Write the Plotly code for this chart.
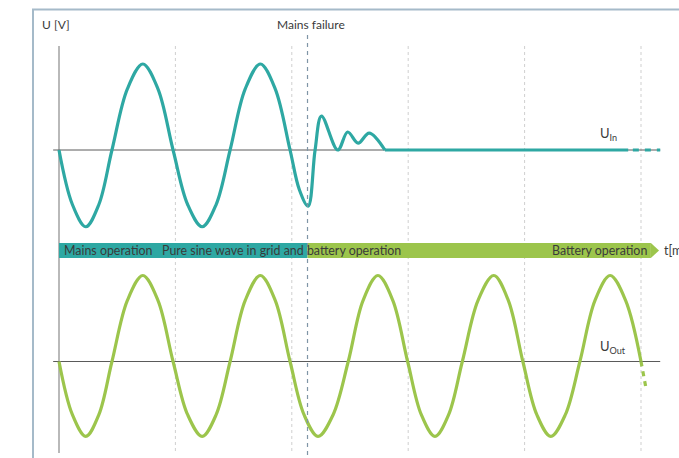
import plotly.graph_objects as go

# ---- data (time in ms, voltage in V) ----
t_out = [0, 2.3, 4.6, 6.85, 9.1, 11.75, 14.4, 17.0, 19.6, 22.1, 24.6, 27.0, 29.4,
         32.0, 34.6, 37.15, 39.7, 42.1, 44.5, 47.1, 49.7, 52.25, 54.8, 57.35, 59.9,
         62.25, 64.6, 66.95, 69.3, 72.0, 74.7, 77.2, 79.7, 82.1, 84.5, 87.0, 89.5,
         92.1, 94.7, 97.35, 100.0]
u_out = [0, -201, -283, -201, 0, 231, 325, 231, 0, -201, -283, -201, 0,
         231, 325, 231, 0, -201, -283, -201, 0, 231, 325, 231, 0,
         -201, -283, -201, 0, 231, 325, 231, 0, -201, -283, -201, 0,
         231, 325, 231, 0]
t_out_cont = [100.0, 100.9]
u_out_cont = [0, -106]

t_in = [0, 2.3, 4.6, 6.85, 9.1, 11.75, 14.4, 17.0, 19.6, 22.1, 24.6, 27.0, 29.4,
        32.0, 34.6, 37.15, 39.7, 41.3, 42.8, 44.0, 45.1, 47.9, 49.6, 51.4, 53.3, 56.0]
u_in = [0, -206, -290, -206, 0, 231, 325, 231, 0, -206, -290, -206, 0,
        231, 325, 231, 0, -150, -212, 0, 128, 0, 68, 26, 64, 0]
t_in_flat = [56.0, 97.8]
u_in_flat = [0, 0]
t_in_cont = [98.6, 103.3]
u_in_cont = [0, 0]

t_fail = 42.7
grid_t = [20, 40, 60, 80, 100]
phase_labels = ["Mains operation", "Pure sine wave in grid and battery operation",
                "Battery operation"]
phase_ends = [0, t_fail, 101.7, 103.1]

TEAL = "#2ea8a3"
GREEN = "#9cc54c"
TXT = "#3a3a3a"
FONT = "Lato"

W, H = 679, 458
def py(p):
    return 1 - p / H
def px(p):
    return p / W

fig = go.Figure()
fig.add_trace(go.Scatter(x=t_in, y=u_in, mode="lines", yaxis="y",
                         line=dict(color=TEAL, width=3.2, shape="spline", smoothing=1.0)))
fig.add_trace(go.Scatter(x=t_in_flat, y=u_in_flat, mode="lines", yaxis="y",
                         line=dict(color=TEAL, width=3.2)))
fig.add_trace(go.Scatter(x=t_in_cont, y=u_in_cont, mode="lines", yaxis="y",
                         line=dict(color=TEAL, width=3.2, dash="6px,6px")))
fig.add_trace(go.Scatter(x=t_out, y=u_out, mode="lines", yaxis="y2",
                         line=dict(color=GREEN, width=3.2, shape="spline", smoothing=1.0)))
fig.add_trace(go.Scatter(x=t_out_cont, y=u_out_cont, mode="lines", yaxis="y2",
                         line=dict(color=GREEN, width=3.2, dash="5px,5px")))

shapes = []
# frame
shapes.append(dict(type="rect", xref="paper", yref="paper",
                   x0=px(33), x1=px(700), y0=py(480), y1=py(9.5),
                   line=dict(color="#a5bac9", width=2), layer="below"))
# dotted grid
for g in grid_t:
    shapes.append(dict(type="line", xref="x", yref="paper", x0=g, x1=g,
                       y0=py(46), y1=py(453),
                       line=dict(color="#cfcfcf", width=1, dash="dot"), layer="below"))
# baselines
shapes.append(dict(type="line", xref="x", yref="y", x0=-1.0, x1=103.3, y0=0, y1=0,
                   line=dict(color="#5a5a5a", width=1), layer="below"))
shapes.append(dict(type="line", xref="x", yref="y2", x0=-1.0, x1=103.3, y0=0, y1=0,
                   line=dict(color="#5a5a5a", width=1), layer="below"))
# vertical axis
shapes.append(dict(type="line", xref="x", yref="paper", x0=0, x1=0,
                   y0=py(46), y1=py(453), line=dict(color="#a8a8a8", width=1.6), layer="below"))
# phase band
band_top, band_bot = py(243), py(258)
shapes.append(dict(type="rect", xref="x", yref="paper", x0=phase_ends[0], x1=phase_ends[1],
                   y0=band_bot, y1=band_top, fillcolor=TEAL, line=dict(width=0), layer="below"))
shapes.append(dict(type="rect", xref="x", yref="paper", x0=phase_ends[1], x1=phase_ends[2],
                   y0=band_bot, y1=band_top, fillcolor=GREEN, line=dict(width=0), layer="below"))
shapes.append(dict(type="path", xref="x", yref="paper",
                   path=f"M {phase_ends[2]},{band_top} L {phase_ends[3]},{(band_top+band_bot)/2} L {phase_ends[2]},{band_bot} Z",
                   fillcolor=GREEN, line=dict(width=0), layer="below"))
# mains failure line
shapes.append(dict(type="line", xref="x", yref="paper", x0=t_fail, x1=t_fail,
                   y0=py(35), y1=py(460), line=dict(color="#7f95a6", width=1.2, dash="4px,4px")))

f = dict(family=FONT, size=12, color=TXT)
fb = dict(family=FONT, size=12.4, color=TXT)
ann = [
    dict(text="U [V]", x=px(40), y=py(25), xanchor="left", yanchor="middle"),
    dict(text="Mains failure", x=px(311), y=py(24), xanchor="center", yanchor="middle"),
    dict(text=phase_labels[0], x=px(62), y=py(250.5), xanchor="left", yanchor="middle", font=fb),
    dict(text=phase_labels[1], x=px(160), y=py(250.5), xanchor="left", yanchor="middle", font=fb),
    dict(text=phase_labels[2], x=px(649), y=py(250.5), xanchor="right", yanchor="middle", font=fb),
    dict(text="t[ms]", x=px(662), y=py(250.5), xanchor="left", yanchor="middle", font=fb),
    dict(text="U<sub>In</sub>", x=px(598), y=py(134), xanchor="left", yanchor="middle",
         font=dict(family=FONT, size=13, color=TXT)),
    dict(text="U<sub>Out</sub>", x=px(598), y=py(347), xanchor="left", yanchor="middle",
         font=dict(family=FONT, size=13, color=TXT)),
]
for a in ann:
    a.update(xref="paper", yref="paper", showarrow=False)
    a.setdefault("font", f)

t_left = -59 / 5.82
t_right = (679 - 59) / 5.82
vpp = 325 / 86.0
fig.update_layout(
    width=W, height=H, margin=dict(l=0, r=0, t=0, b=0),
    paper_bgcolor="white", plot_bgcolor="white", showlegend=False,
    hovermode=False, dragmode=False,
    xaxis=dict(range=[t_left, t_right], visible=False, fixedrange=True),
    yaxis=dict(range=[-(458 - 150) * vpp, 150 * vpp], visible=False, domain=[0, 1],
               fixedrange=True),
    yaxis2=dict(range=[-(458 - 361.5) * vpp, 361.5 * vpp], visible=False,
                overlaying="y", domain=[0, 1], fixedrange=True),
    shapes=shapes, annotations=ann,
)
fig.write_html("out.html", config={"displayModeBar": False, "staticPlot": True},
               post_script="document.body.style.margin='0';document.body.style.overflow='hidden';")
